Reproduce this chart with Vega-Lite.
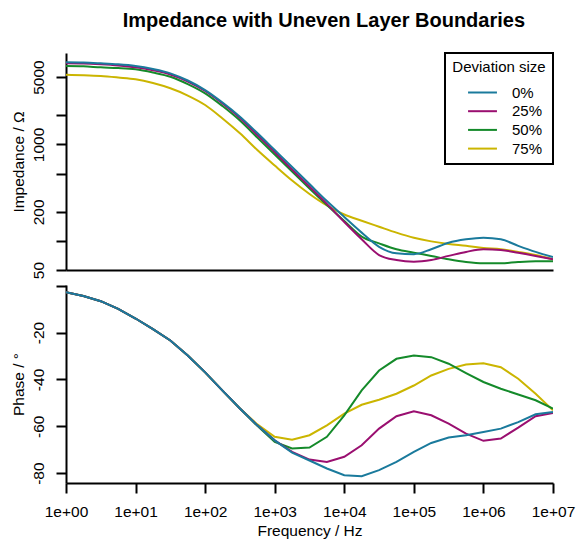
{
  "$schema": "https://vega.github.io/schema/vega-lite/v6.json",
  "padding": {"left": 10, "top": 11, "right": 5, "bottom": 0},
  "title": {"text": "Impedance with Uneven Layer Boundaries", "fontSize": 20, "fontWeight": "bold", "font": "Liberation Sans", "anchor": "middle", "offset": 21, "dx": 31, "color": "black"},
  "datasets": {
    "d": [
      {"f":1,"d":"75%","z":5280,"p":-2.8},{"f":1.778,"d":"75%","z":5220,"p":-4.4},{"f":3.162,"d":"75%","z":5120,"p":-6.6},{"f":5.623,"d":"75%","z":4940,"p":-9.9},{"f":10,"d":"75%","z":4735,"p":-14},{"f":17.78,"d":"75%","z":4330,"p":-18.5},{"f":31.62,"d":"75%","z":3820,"p":-23.4},{"f":56.23,"d":"75%","z":3215,"p":-29.8},{"f":100,"d":"75%","z":2565,"p":-37},{"f":177.8,"d":"75%","z":1860,"p":-44.8},{"f":316.2,"d":"75%","z":1305,"p":-52.4},{"f":562.3,"d":"75%","z":876,"p":-59.2},{"f":1000,"d":"75%","z":605,"p":-64.5},{"f":1778,"d":"75%","z":423,"p":-65.7},{"f":3162,"d":"75%","z":307,"p":-63.8},{"f":5623,"d":"75%","z":233,"p":-59.6},{"f":10000,"d":"75%","z":188,"p":-54.6},{"f":17783,"d":"75%","z":162,"p":-50.8},{"f":31623,"d":"75%","z":140.5,"p":-48.7},{"f":56234,"d":"75%","z":122,"p":-46.1},{"f":100000,"d":"75%","z":108,"p":-42.6},{"f":177828,"d":"75%","z":99,"p":-38.3},{"f":316228,"d":"75%","z":93,"p":-35.5},{"f":562341,"d":"75%","z":89,"p":-33.6},{"f":1000000,"d":"75%","z":84.5,"p":-33.1},{"f":1778279,"d":"75%","z":82,"p":-34.8},{"f":3162278,"d":"75%","z":77,"p":-39.7},{"f":5623413,"d":"75%","z":71.5,"p":-46.1},{"f":10000000,"d":"75%","z":64.5,"p":-53.2},
      {"f":1,"d":"50%","z":6500,"p":-2.8},{"f":1.778,"d":"50%","z":6455,"p":-4.4},{"f":3.162,"d":"50%","z":6300,"p":-6.6},{"f":5.623,"d":"50%","z":6200,"p":-9.9},{"f":10,"d":"50%","z":6010,"p":-14},{"f":17.78,"d":"50%","z":5565,"p":-18.5},{"f":31.62,"d":"50%","z":5035,"p":-23.4},{"f":56.23,"d":"50%","z":4230,"p":-29.8},{"f":100,"d":"50%","z":3390,"p":-37},{"f":177.8,"d":"50%","z":2500,"p":-44.8},{"f":316.2,"d":"50%","z":1770,"p":-52.4},{"f":562.3,"d":"50%","z":1180,"p":-59.8},{"f":1000,"d":"50%","z":787,"p":-66.7},{"f":1778,"d":"50%","z":524,"p":-69.5},{"f":3162,"d":"50%","z":350,"p":-69.1},{"f":5623,"d":"50%","z":236,"p":-64.5},{"f":10000,"d":"50%","z":161,"p":-55.3},{"f":17783,"d":"50%","z":111,"p":-44.7},{"f":31623,"d":"50%","z":94.5,"p":-36.2},{"f":56234,"d":"50%","z":82,"p":-31.2},{"f":100000,"d":"50%","z":75.5,"p":-29.8},{"f":177828,"d":"50%","z":70,"p":-30.5},{"f":316228,"d":"50%","z":64.5,"p":-33.3},{"f":562341,"d":"50%","z":60.5,"p":-37.3},{"f":1000000,"d":"50%","z":58.7,"p":-41.1},{"f":1778279,"d":"50%","z":58.7,"p":-44},{"f":3162278,"d":"50%","z":60.5,"p":-46.4},{"f":5623413,"d":"50%","z":61.5,"p":-48.9},{"f":10000000,"d":"50%","z":61.5,"p":-52.5},
      {"f":1,"d":"25%","z":6935,"p":-2.8},{"f":1.778,"d":"25%","z":6900,"p":-4.4},{"f":3.162,"d":"25%","z":6770,"p":-6.6},{"f":5.623,"d":"25%","z":6580,"p":-9.9},{"f":10,"d":"25%","z":6300,"p":-14},{"f":17.78,"d":"25%","z":5865,"p":-18.5},{"f":31.62,"d":"25%","z":5305,"p":-23.4},{"f":56.23,"d":"25%","z":4490,"p":-29.8},{"f":100,"d":"25%","z":3580,"p":-37},{"f":177.8,"d":"25%","z":2655,"p":-44.8},{"f":316.2,"d":"25%","z":1880,"p":-52.4},{"f":562.3,"d":"25%","z":1253,"p":-59.6},{"f":1000,"d":"25%","z":835,"p":-66},{"f":1778,"d":"25%","z":550,"p":-70.9},{"f":3162,"d":"25%","z":366,"p":-74.2},{"f":5623,"d":"25%","z":242,"p":-75.2},{"f":10000,"d":"25%","z":157,"p":-73},{"f":17783,"d":"25%","z":104,"p":-68.1},{"f":31623,"d":"25%","z":71.5,"p":-61},{"f":56234,"d":"25%","z":63.5,"p":-55.7},{"f":100000,"d":"25%","z":61,"p":-53.6},{"f":177828,"d":"25%","z":63.5,"p":-55.3},{"f":316228,"d":"25%","z":70,"p":-58.9},{"f":562341,"d":"25%","z":77,"p":-63.1},{"f":1000000,"d":"25%","z":82,"p":-66.2},{"f":1778279,"d":"25%","z":80.6,"p":-65.2},{"f":3162278,"d":"25%","z":75.5,"p":-60.6},{"f":5623413,"d":"25%","z":70,"p":-55.7},{"f":10000000,"d":"25%","z":64.5,"p":-54.3},
      {"f":1,"d":"0%","z":7100,"p":-2.8},{"f":1.778,"d":"0%","z":7065,"p":-4.4},{"f":3.162,"d":"0%","z":6935,"p":-6.6},{"f":5.623,"d":"0%","z":6770,"p":-9.9},{"f":10,"d":"0%","z":6500,"p":-14},{"f":17.78,"d":"0%","z":6050,"p":-18.5},{"f":31.62,"d":"0%","z":5460,"p":-23.4},{"f":56.23,"d":"0%","z":4600,"p":-29.8},{"f":100,"d":"0%","z":3665,"p":-37},{"f":177.8,"d":"0%","z":2720,"p":-44.8},{"f":316.2,"d":"0%","z":1940,"p":-52.4},{"f":562.3,"d":"0%","z":1314,"p":-59.6},{"f":1000,"d":"0%","z":876,"p":-66},{"f":1778,"d":"0%","z":584,"p":-71.2},{"f":3162,"d":"0%","z":389,"p":-74.6},{"f":5623,"d":"0%","z":259,"p":-78},{"f":10000,"d":"0%","z":177,"p":-80.9},{"f":17783,"d":"0%","z":122,"p":-81.3},{"f":31623,"d":"0%","z":87,"p":-78.7},{"f":56234,"d":"0%","z":74.5,"p":-75.2},{"f":100000,"d":"0%","z":73,"p":-70.9},{"f":177828,"d":"0%","z":82,"p":-67.1},{"f":316228,"d":"0%","z":96,"p":-64.8},{"f":562341,"d":"0%","z":104,"p":-63.8},{"f":1000000,"d":"0%","z":108,"p":-62.4},{"f":1778279,"d":"0%","z":104,"p":-61},{"f":3162278,"d":"0%","z":89,"p":-58.2},{"f":5623413,"d":"0%","z":77,"p":-54.9},{"f":10000000,"d":"0%","z":68,"p":-53.9}
    ]
  },
  "data": {"name": "d"},
  "spacing": 6,
  "resolve": {"scale": {"color": "shared"}, "legend": {"color": "independent"}},
  "vconcat": [
    {
      "width": 487,
      "height": 217,
      "mark": {"type": "line", "strokeWidth": 2, "clip": true, "interpolate": "monotone"},
      "encoding": {
        "x": {"field": "f", "type": "quantitative", "scale": {"type": "log", "domain": [1, 10000000], "nice": false}, "axis": {"labels": false, "ticks": false, "title": null, "grid": false, "domain": true}},
        "y": {"field": "z", "type": "quantitative", "scale": {"type": "log", "domain": [50, 8870], "nice": false},
          "axis": {"title": "Impedance / Ω", "values": [50, 100, 200, 500, 1000, 2000, 5000], "labelOverlap": false,
            "labelExpr": "(datum.value==50||datum.value==200||datum.value==1000||datum.value==5000) ? ''+datum.value : ''"}},
        "color": {"field": "d", "type": "nominal",
          "scale": {"domain": ["0%", "25%", "50%", "75%"], "range": ["#1a7a9c", "#9a0f70", "#148a2a", "#cbb500"]},
          "legend": {"title": "Deviation size", "orient": "top-right", "offset": 0, "padding": 7, "strokeColor": "black", "fillColor": "white",
            "titleFontSize": 15, "titleFontWeight": "normal", "titleFont": "Liberation Sans", "titleColor": "black", "titleAnchor": "middle", "titlePadding": 8,
            "labelFontSize": 15, "labelFont": "Liberation Sans", "labelColor": "black",
            "symbolType": "M-1.7,0H1.7", "symbolSize": 289, "symbolStrokeWidth": 2, "symbolOffset": 18, "labelOffset": 20, "rowPadding": 0.7,
            "encode": {"legend": {"update": {"strokeWidth": {"value": 2}}}}}}
      }
    },
    {
      "width": 487,
      "height": 198,
      "mark": {"type": "line", "strokeWidth": 2, "clip": true},
      "encoding": {
        "x": {"field": "f", "type": "quantitative", "scale": {"type": "log", "domain": [1, 10000000], "nice": false},
          "axis": {"title": "Frequency / Hz", "values": [1, 10, 100, 1000, 10000, 100000, 1000000, 10000000], "labelFlush": false, "labelOverlap": false,
            "labelExpr": "'1e+0' + round(log(datum.value)/LN10)"}},
        "y": {"field": "p", "type": "quantitative", "scale": {"domain": [-84.2, 0.3], "nice": false, "zero": false},
          "axis": {"title": "Phase / °", "values": [0, -20, -40, -60, -80], "labelOverlap": false,
            "labelExpr": "datum.value==0 ? '' : '-' + abs(datum.value)"}},
        "color": {"field": "d", "type": "nominal", "legend": null}
      }
    }
  ],
  "config": {
    "view": {"stroke": null},
    "axis": {"labelFont": "Liberation Sans", "titleFont": "Liberation Sans", "labelFontSize": 15.5, "titleFontSize": 15.5, "titleFontWeight": "normal",
      "labelColor": "black", "titleColor": "black", "domainColor": "black", "tickColor": "black", "domainWidth": 2, "tickWidth": 2, "tickSize": 10, "grid": false},
    "axisY": {"labelAngle": -90, "labelPadding": 10, "titlePadding": 5, "labelAlign": "center", "labelBaseline": "bottom"},
    "axisX": {"labelPadding": 11, "titlePadding": 4}
  }
}
